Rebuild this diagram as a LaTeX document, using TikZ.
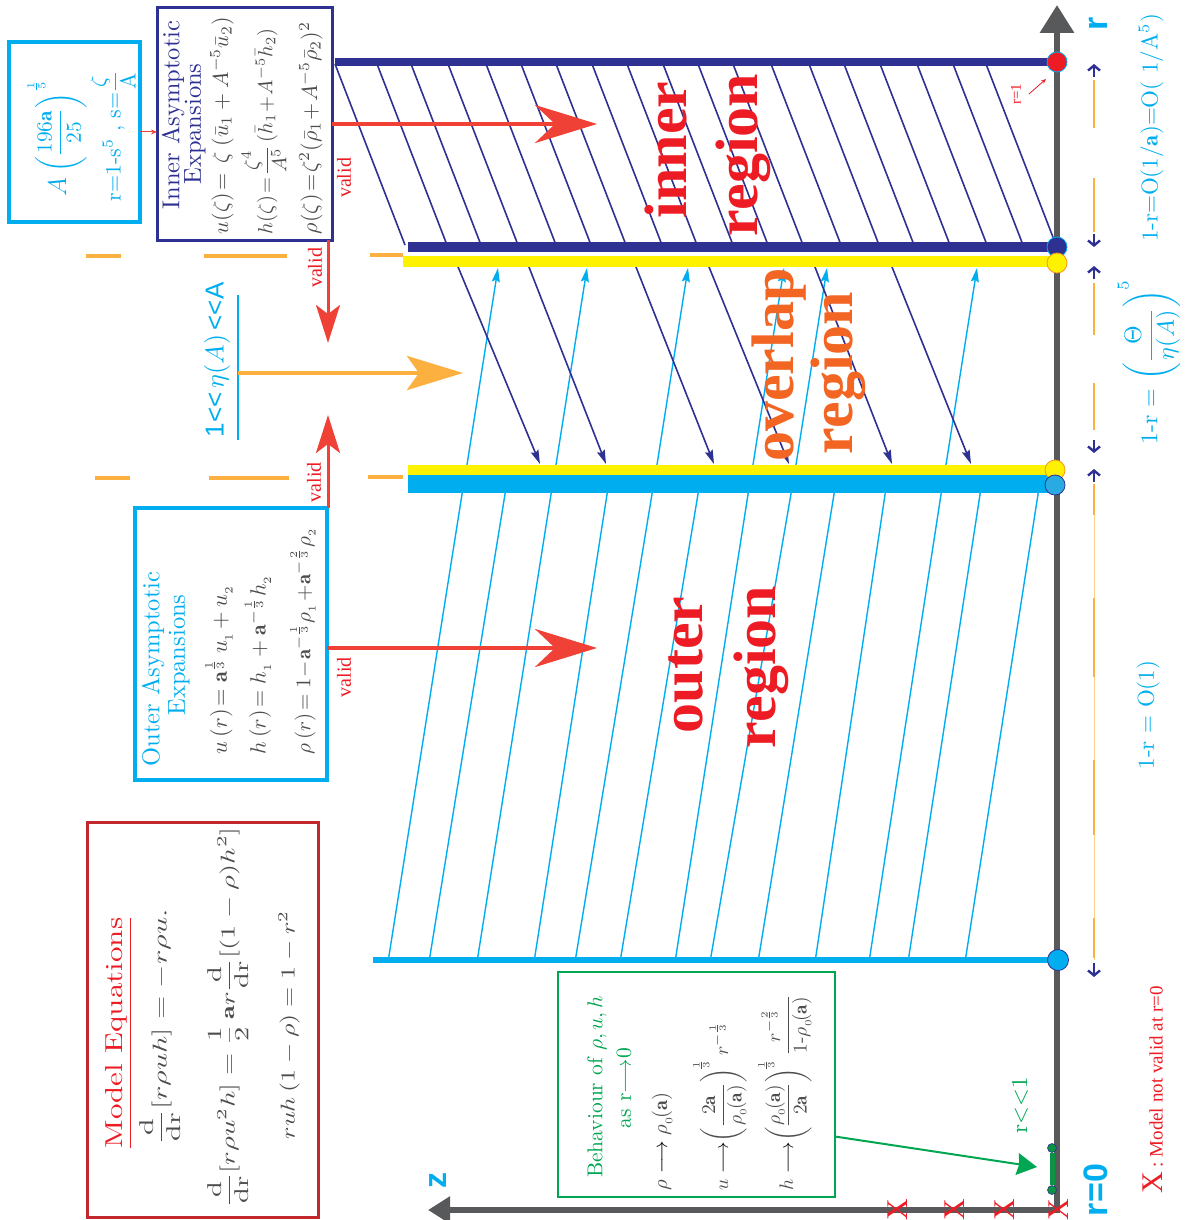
\documentclass[tikz,border=0pt]{standalone}
\usepackage{amsmath}
\usepackage{fontspec}
\newfontfamily\timesf{Liberation Serif}
\newfontfamily\arialf{Liberation Sans}
\usetikzlibrary{arrows.meta}
\definecolor{dblue}{HTML}{2E3192}
\definecolor{cyanc}{HTML}{00AEEF}
\definecolor{redc}{HTML}{ED1C24}
\definecolor{redarr}{HTML}{EF4136}
\definecolor{orangetxt}{HTML}{F26522}
\definecolor{orangec}{HTML}{FBB040}
\definecolor{orangeb}{HTML}{F7941D}
\definecolor{yellowc}{HTML}{FFF200}
\definecolor{greenc}{HTML}{00A651}
\definecolor{greend}{HTML}{0A9344}
\definecolor{axisg}{HTML}{58595B}
\definecolor{mathg}{HTML}{4D4D4D}
\definecolor{boxred}{HTML}{C1272D}
\definecolor{dotcyan}{HTML}{29ABE2}
\begin{document}
\begin{tikzpicture}[x=1pt,y=-1pt,
  lbl/.style={rotate=90,inner sep=0pt,outer sep=0pt},
  boxframe/.style={draw,inner sep=0pt,outer sep=0pt},
  bigword/.style={lbl,anchor=base,font=\timesf\bfseries\fontsize{60}{60}\selectfont},
  validtxt/.style={lbl,text=redc,font=\timesf\fontsize{20}{20}\selectfont},
  bigred/.style={redarr,line width=4pt,-{Stealth[length=62pt,width=38pt,inset=20pt]}},
  vred/.style={redarr,line width=3pt,-{Stealth[length=38pt,width=24pt,inset=9pt]}},
  orarr/.style={orangec,line width=4.5pt,-{Stealth[length=56pt,width=34pt,inset=12pt]}},
  hatchin/.style={dblue,line width=1.6pt},
  hatchout/.style={cyanc,line width=1.4pt},
  dbarr/.style={dblue,line width=1.6pt,-{Stealth[length=14pt,width=8pt,inset=2pt]}},
  cyarr/.style={cyanc,line width=1.4pt,-{Stealth[length=14pt,width=8pt,inset=2pt]}},
  bararrow/.style={dblue,line width=2.4pt,-{Straight Barb[length=5pt,width=12pt]}},
  odash/.style={orangec,line width=2.8pt},
  axisdot/.style={circle,inner sep=0pt,minimum size=20pt,line width=0.8pt},
  eqg/.style={lbl,text=mathg},
]
\useasboundingbox (0,0) rectangle (1195,1220);

% ---------- hatching of inner region
\foreach \t in {335,377,411,448,486,521,556,592,627,663,698,733,771,809,844,880,917,953,986}
  {\draw[hatchin] (\t,64) -- ({\t+70},245);}
% ---------- hatching of outer region
\foreach \a/\b in {463/388,506/429,552/477,608/534,653/575,699/620,749/675,792/710,835/758,886/815,942/869,981/908,1039/965}
  {\draw[hatchout] (\a,488) -- (\b,962);}
% ---------- overlap arrows
\foreach \a in {463,552,653,749,792,942}
  {\draw[cyarr] (\a,490) -- ({\a+35},268);}
\foreach \a/\b in {456/540,527/606,634/714,707/789,813/892,890/971}
  {\draw[dbarr] (\a,262) -- (\b,464);}

% ---------- bars
\draw[dblue,line width=8pt] (335,62) -- (1057,62);
\draw[dblue,line width=10pt] (408,247) -- (1057,247);
\draw[yellowc,line width=11pt] (403,261) -- (1057,261);
\draw[yellowc,line width=10pt] (408,470) -- (1057,470);
\draw[cyanc,line width=18pt] (408,484) -- (1057,484);
\draw[cyanc,line width=6pt] (373,960) -- (1057,960);

% ---------- left orange dashes
\draw[orangec,line width=3.5pt] (86,256)--(121,256) (204,256)--(287,256) (370,255)--(403,255);
\draw[orangec,line width=3.5pt] (95,478)--(130,478) (209,478)--(289,478) (368,477)--(403,477);

% ---------- boxes
\node[boxframe,draw=cyanc,line width=4pt,minimum width=131pt,minimum height=180pt] (abox) at (74.5,132) {};
\node[boxframe,draw=dblue,line width=3pt,minimum width=175pt,minimum height=232pt] (inner) at (244.5,124) {};
\node[boxframe,draw=cyanc,line width=4pt,minimum width=192pt,minimum height=272pt] (outer) at (231,644) {};
\node[boxframe,draw=boxred,line width=3pt,minimum width=231pt,minimum height=395pt] (model) at (202.5,1020) {};
\node[boxframe,draw=greenc,line width=2pt,minimum width=277pt,minimum height=225pt] (behav) at (696.5,1084.5) {};

% ---------- axes
\draw[axisg,line width=6.5pt,{Triangle[length=22pt,width=26pt]}-{Triangle[length=28pt,width=33pt]}] (428,1210) -- (1057,1210) -- (1057,5);

% ---------- dots on axis
\node[axisdot,fill=redc,draw=cyanc] (d1) at (1057,62) {};
\node[axisdot,fill=dblue,draw=cyanc] (d2) at (1057,247) {};
\node[axisdot,fill=yellowc,draw=orangeb] (d3) at (1057,263) {};
\node[axisdot,fill=yellowc,draw=orangeb] (d4) at (1055,470) {};
\node[axisdot,fill=dotcyan,draw=dblue] (d5) at (1055,485) {};
\node[axisdot,fill=cyanc,draw=dblue,minimum size=21pt] (d6) at (1058,960) {};
\node[circle,fill=greend,draw=dblue,inner sep=0pt,minimum size=9pt,line width=0.6pt] (g1) at (1052,1148) {};
\node[circle,fill=greend,draw=dblue,inner sep=0pt,minimum size=9pt,line width=0.6pt] (g2) at (1052,1190) {};
\draw[greend,line width=5pt] (g1) -- (g2);

% ---------- red X marks
\foreach \xx in {898,955,1005,1059}
  {\node[lbl,text=redc,font=\timesf\fontsize{30}{30}\selectfont] at (\xx,1210) {X};}

% ---------- right side range arrows
\foreach \ya/\yb in {77/64,279/266,482/469,234/247,440/453,963/977}
  {\draw[bararrow] (1094,\ya) -- (1094,\yb);}
\draw[odash] (1094,80)--(1094,128) (1094,178)--(1094,232) (1094,283)--(1094,335) (1094,383)--(1094,430);
\draw[orangec!60,line width=1pt] (1094,485)--(1094,960);
\draw[odash] (1094,484)--(1094,515) (1094,598)--(1094,677) (1094,760)--(1094,835) (1094,918)--(1094,958);

% ---------- arrows
\draw[redarr,line width=1pt,-{Stealth[length=6pt,width=5pt]}] (abox.east) -- (inner.west |- abox.east);
\coordinate (itip) at (597,124);
\draw[bigred] (inner.east) -- (itip);
\coordinate (otip) at (597,648);
\draw[bigred] (outer.east |- otip) -- (otip);
\coordinate (vdtip) at (328,343);
\draw[vred] (vdtip |- inner.south) -- (vdtip);
\coordinate (vutip) at (328,415);
\draw[vred] (vutip |- outer.north) -- (vutip);
\coordinate (etatop) at (238,295);
\coordinate (etabot) at (238,440);
\draw[cyanc,line width=1.5pt] (etatop) -- (etabot);
\coordinate (ostart) at (238,373);
\coordinate (oend) at (463,373);
\draw[orarr] (ostart) -- (oend);
\coordinate (gtip) at (1037,1167);
\draw[greenc,line width=2pt,-{Stealth[length=20pt,width=22pt,inset=2pt]}] ([yshift=-52pt]behav.east) -- (gtip);

% ---------- top-left box text
\node[lbl,text=cyanc,scale=2.15] (abl1) at (57,138) {{\large$A$}\;$\left(\dfrac{196\mathbf{a}}{25}\right)^{\frac{1}{5}}$};
\node[lbl,text=cyanc,scale=2.2] (abl2) at (113,136) {r=1-s$^{5}$ , s=$\dfrac{\zeta}{\mathrm{A}}$};

% ---------- inner box text
\node[lbl,text=dblue,scale=2.45] (it1) at (173,115) {Inner Asymptotic};
\node[lbl,text=dblue,scale=2.45] (it2) at (195,124) {Expansions};
\node[eqg,anchor=west,scale=2.2] (ie1) at (222,234) {$u(\zeta)\!=\,\zeta\;(\bar{u}_1+A^{-5}\bar{u}_2)$};
\node[eqg,anchor=west,scale=2.05] (ie2) at (264,234) {$h(\zeta)\!=\!\dfrac{\zeta^4}{A^5}\,(\bar{h}_1\!+\!A^{-5}\bar{h}_2)$};
\node[eqg,anchor=west,scale=2.2] (ie3) at (311,234) {$\rho(\zeta)\!=\!\zeta^2(\bar{\rho}_1\!+\!A^{-5}\bar{\rho}_2)^2$};

% ---------- outer box text
\node[lbl,text=cyanc,scale=2.45] (ot1) at (153,669) {Outer Asymptotic};
\node[lbl,text=cyanc,scale=2.45] (ot2) at (179,655) {Expansions};
\node[eqg,anchor=west,scale=2.25] (oe1) at (219,754) {$u\left(r\right)\!=\mathbf{a}^{\frac{1}{3}}\,u_{_1}\!+u_{_2}$};
\node[eqg,anchor=west,scale=2.2] (oe2) at (258,754) {$h\left(r\right)\!=h_{_1}+\mathbf{a}^{-\frac{1}{3}}h_{_2}$};
\node[eqg,anchor=west,scale=2.1] (oe3) at (303,754) {$\rho\left(r\right)\!=1\!-\!\mathbf{a}^{-\frac{1}{3}}\rho_{_1}\!+\!\mathbf{a}^{-\frac{2}{3}}\rho_{_2}$};

% ---------- model equations
\node[lbl,text=redc,xscale=3.1,yscale=2.45] (mt) at (119,1033) {\underline{Model Equations}};
\node[eqg,xscale=3.0,yscale=2.0] (me1) at (160,1027) {$\displaystyle\frac{\mathrm{d}}{\mathrm{dr}}[r\rho uh]=-r\rho u.$};
\node[eqg,xscale=2.85,yscale=2.0] (me2) at (228,1017) {$\displaystyle\frac{\mathrm{d}}{\mathrm{dr}}[r\rho u^2h]=\textcolor{cyanc}{\frac{\textcolor{mathg}{1}}{\textcolor{mathg}{2}}}\,\mathbf{a}r\frac{\mathrm{d}}{\mathrm{dr}}[(1-\rho)h^2]$};
\node[eqg,xscale=2.6,yscale=2.0] (me3) at (289,1025) {$ruh\,(1-\rho)=1-r^2$};

% ---------- behaviour box
\node[lbl,text=greenc,scale=2.15] (bt1) at (597,1087) {Behaviour of $\rho,u,h$};
\node[lbl,text=greenc,scale=2.15] (bt2) at (624,1088) {as r$\longrightarrow$0};
\node[eqg,anchor=west,scale=2.05] (be1) at (662,1190) {$\rho\;\textcolor{black}{\longrightarrow}\;\rho_{_0}\!(\mathbf{a})$};
\node[eqg,anchor=west,scale=1.95] (be2) at (720,1190) {$u\;\textcolor{black}{\longrightarrow}\!\left(\dfrac{2\mathbf{a}}{\rho_{_0}\!(\mathbf{a})}\right)^{\!\frac{1}{3}}r^{-\frac{1}{3}}$};
\node[eqg,anchor=west,scale=1.95] (be3) at (785,1190) {$h\;\textcolor{black}{\longrightarrow}\!\left(\dfrac{\rho_{_0}\!(\mathbf{a})}{2\mathbf{a}}\right)^{\!\frac{1}{3}}\dfrac{r^{-\frac{2}{3}}}{1\text{-}\rho_{_0}\!(\mathbf{a})}$};

% ---------- eta label and valid labels
\node[lbl,text=cyanc,scale=2.6] (etalab) at (217,360) {{\arialf 1<{}<}\,$\eta(A)$\,{\arialf <{}<A}};
\node[validtxt] (v1) at (344,178) {valid};
\node[validtxt] (v2) at (344,677) {valid};
\node[validtxt] (v3) at (315,268) {valid};
\node[validtxt] (v4) at (314,482) {valid};

% ---------- region words
\node[bigword,text=redc] (winner) at (686,150) {inner};
\node[bigword,text=redc] (wreg1) at (757,155) {region};
\node[bigword,text=orangetxt] (wover) at (793,365) {overlap};
\node[bigword,text=orangetxt] (wreg2) at (852,373) {region};
\node[bigword,text=redc] (wouter) at (702,665) {outer};
\node[bigword,text=redc] (wreg3) at (775,667) {region};

% ---------- right labels
\node[lbl,text=cyanc,scale=2.3] (rl1) at (1151,128) {1-r=O(1/$\mathbf{a}$)=O( 1/A$^{5}$)};
\node[lbl,text=cyanc,scale=2.4] (rl2) at (1149,362) {1-r = $\left(\dfrac{\Theta}{\eta(A)}\right)^{5}$};
\node[lbl,text=cyanc,scale=2.3] (rl3) at (1148,715) {1-r = O(1)};
\node[lbl,text=redc,font=\timesf\fontsize{19}{19}\selectfont] (xnote) at (1153,1090) {{\fontsize{30}{30}\selectfont X} : Model not valid at r=0};
\node[lbl,text=cyanc,font=\arialf\bfseries\fontsize{34}{34}\selectfont] (rlab) at (1098,24) {r};
\node[lbl,text=cyanc,font=\arialf\bfseries\fontsize{34}{34}\selectfont] (r0lab) at (1096,1190) {r=0};
\node[lbl,text=cyanc,font=\arialf\bfseries\fontsize{32}{32}\selectfont] (zlab) at (438,1180) {z};
\node[lbl,text=greenc,scale=2.3] (rll) at (1020,1105) {r<{}<1};
\node[lbl,text=redc,font=\timesf\fontsize{15}{15}\selectfont] (r1lab) at (1016,94) {r=1};
\coordinate (r1tip) at (1046,79);
\draw[redc,line width=0.8pt,-{Stealth[length=5pt,width=4pt]}] ([xshift=8pt]r1lab.south) -- (r1tip);
\end{tikzpicture}
\end{document}
